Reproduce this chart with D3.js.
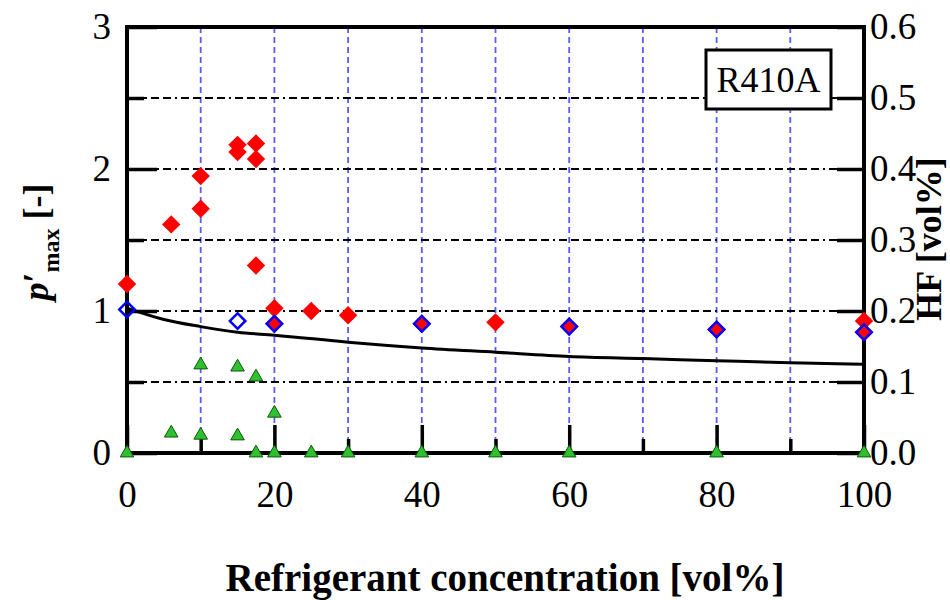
<!DOCTYPE html>
<html>
<head>
<meta charset="utf-8">
<script src="https://cdn.jsdelivr.net/npm/d3@7"></script>
<style>
  body { margin: 0; background: #fff; }
  svg { display: block; font-family: "Liberation Serif", "Times New Roman", serif; }
</style>
</head>
<body>
<svg id="chart"></svg>
<script>
// concentration [vol%] and normalised max pressure p'max [-]
const redX = [0, 6, 10, 10, 15, 15, 17.5, 17.5, 17.5, 20, 20, 25, 30, 40, 50, 60, 80, 100, 100];
const redP = [1.19, 1.61, 1.72, 1.95, 2.17, 2.12, 2.18, 2.07, 1.32, 1.02, 0.91, 1.0, 0.97, 0.91, 0.92, 0.89, 0.87, 0.93, 0.85];
const blueX = [0, 15, 20, 40, 60, 80, 100];
const blueP = [1.01, 0.93, 0.91, 0.91, 0.89, 0.87, 0.85];
// HF concentration [vol%] (right axis)
const hfX = [0, 6, 10, 10, 15, 15, 17.5, 17.5, 20, 20, 25, 30, 40, 50, 60, 80, 100];
const hfV = [0, 0.028, 0.025, 0.124, 0.024, 0.121, 0.107, 0, 0.056, 0, 0, 0, 0, 0, 0, 0, 0];
// calculated curve
const curveX = [0, 5, 10, 15, 20, 30, 40, 50, 60, 70, 80, 90, 100];
const curveP = [1.02, 0.94, 0.89, 0.85, 0.83, 0.78, 0.74, 0.71, 0.68, 0.665, 0.65, 0.635, 0.625];
// ticks
const xMajor = [0, 20, 40, 60, 80, 100];
const xMinor = [10, 30, 50, 70, 90];
const yMajor = [0, 1, 2, 3];
const yMinor = [0.5, 1.5, 2.5];
const yRight = [0, 0.1, 0.2, 0.3, 0.4, 0.5, 0.6];

const width = 950, height = 600;
const plot = { left: 127, right: 864, top: 27, bottom: 453 };

const svg = d3.select("#chart").attr("width", width).attr("height", height);

const x = d3.scaleLinear().domain([0, 100]).range([plot.left, plot.right]);
const yL = d3.scaleLinear().domain([0, 3]).range([plot.bottom, plot.top]);
const yR = d3.scaleLinear().domain([0, 0.6]).range([plot.bottom, plot.top]);

// grid
svg.append("g")
  .selectAll("line")
  .data(xMajor.concat(xMinor).filter((d) => d > 0 && d < 100))
  .join("line")
  .attr("x1", (d) => x(d)).attr("x2", (d) => x(d))
  .attr("y1", plot.top).attr("y2", plot.bottom)
  .attr("stroke", "#5a5aff").attr("stroke-width", 1.8)
  .attr("stroke-dasharray", "6,4");

svg.append("g")
  .selectAll("line")
  .data(yMajor.concat(yMinor).filter((d) => d > 0 && d < 3))
  .join("line")
  .attr("x1", plot.left).attr("x2", plot.right)
  .attr("y1", (d) => yL(d)).attr("y2", (d) => yL(d))
  .attr("stroke", "#000").attr("stroke-width", 2)
  .attr("stroke-dasharray", "8,4,8,4,8,4,8,4,2,4");

// legend box
svg.append("rect")
  .attr("x", 706).attr("y", 50).attr("width", 125).attr("height", 59)
  .attr("fill", "#fff").attr("stroke", "#000").attr("stroke-width", 3);
svg.append("text")
  .attr("x", 768.5).attr("y", 92)
  .attr("text-anchor", "middle")
  .style("font-size", "36px")
  .text("R410A");

// axes
function styleAxis(g) {
  g.select(".domain").remove();
  g.selectAll(".tick line").attr("stroke", "#000").attr("stroke-width", 3.5);
  g.selectAll(".tick text").attr("fill", "#000").style("font-size", "37px")
    .style("font-family", "'Liberation Serif', 'Times New Roman', serif");
}

svg.append("g")
  .attr("transform", `translate(0,${plot.bottom})`)
  .call(d3.axisBottom(x).tickValues(xMajor).tickSize(-28).tickPadding(28).tickFormat(d3.format("d")))
  .call(styleAxis);
svg.append("g")
  .attr("transform", `translate(0,${plot.bottom})`)
  .call(d3.axisBottom(x).tickValues(xMinor).tickSize(-14).tickFormat(""))
  .call(styleAxis);

svg.append("g")
  .attr("transform", `translate(${plot.left},0)`)
  .call(d3.axisLeft(yL).tickValues(yMajor).tickSize(-30).tickPadding(16).tickFormat(d3.format("d")))
  .call(styleAxis);
svg.append("g")
  .attr("transform", `translate(${plot.left},0)`)
  .call(d3.axisLeft(yL).tickValues(yMinor).tickSize(-17).tickFormat(""))
  .call(styleAxis);

svg.append("g")
  .attr("transform", `translate(${plot.right},0)`)
  .call(d3.axisRight(yR).tickValues(yRight).tickSize(-27).tickPadding(6).tickFormat(d3.format(".1f")))
  .call(styleAxis);

// frame
svg.append("rect")
  .attr("x", plot.left).attr("y", plot.top)
  .attr("width", plot.right - plot.left).attr("height", plot.bottom - plot.top)
  .attr("fill", "none").attr("stroke", "#000").attr("stroke-width", 4);

// calculated curve
const line = d3.line()
  .x((d, i) => x(curveX[i]))
  .y((d) => yL(d))
  .curve(d3.curveMonotoneX);
svg.append("path")
  .datum(curveP)
  .attr("d", line)
  .attr("fill", "none").attr("stroke", "#000").attr("stroke-width", 3);

// HF triangles
svg.append("g")
  .selectAll("path")
  .data(hfV)
  .join("path")
  .attr("d", d3.symbol(d3.symbolTriangle, 80))
  .attr("transform", (d, i) => `translate(${x(hfX[i])},${yR(d)})`)
  .attr("fill", "#2fbf2f").attr("stroke", "#0b5a0b").attr("stroke-width", 1);

// red diamonds
svg.append("g")
  .selectAll("path")
  .data(redP)
  .join("path")
  .attr("d", d3.symbol(d3.symbolSquare, 170))
  .attr("transform", (d, i) => `translate(${x(redX[i])},${yL(d)}) rotate(45)`)
  .attr("fill", "#ff0000");

// blue open diamonds
svg.append("g")
  .selectAll("path")
  .data(blueP)
  .join("path")
  .attr("d", d3.symbol(d3.symbolSquare, 120))
  .attr("transform", (d, i) => `translate(${x(blueX[i])},${yL(d)}) rotate(45)`)
  .attr("fill", "none").attr("stroke", "#0000ff").attr("stroke-width", 2.5);

// axis titles
const yTitle = svg.append("text")
  .attr("transform", "translate(48,242) rotate(-90)")
  .attr("text-anchor", "middle")
  .style("font-weight", "bold")
  .style("font-size", "36px");
yTitle.append("tspan").style("font-style", "italic").text("p");
yTitle.append("tspan").text("\u2032");
yTitle.append("tspan").attr("dy", 11).style("font-size", "24px").text("max");
yTitle.append("tspan").attr("dy", -11).text(" [-]");

svg.append("text")
  .attr("transform", "translate(941,239) rotate(-90)")
  .attr("text-anchor", "middle")
  .style("font-weight", "bold")
  .style("font-size", "36px")
  .text("HF [vol%]");

svg.append("text")
  .attr("x", 505).attr("y", 591)
  .attr("text-anchor", "middle")
  .style("font-weight", "bold")
  .style("font-size", "39px")
  .text("Refrigerant concentration [vol%]");
</script>
</body>
</html>
